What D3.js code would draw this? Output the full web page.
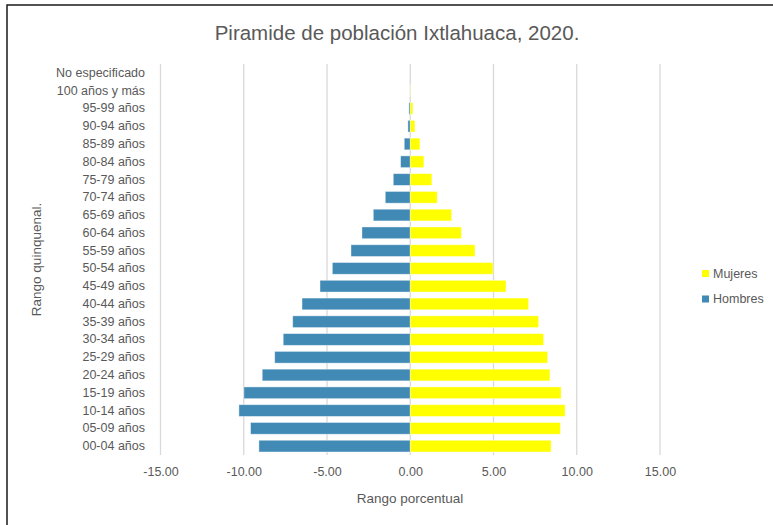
<!DOCTYPE html>
<html>
<head>
<meta charset="utf-8">
<script src="https://cdn.jsdelivr.net/npm/d3@7"></script>
<style>
  html, body { margin: 0; padding: 0; background: #fff; }
  svg { display: block; }
  text { font-family: "Liberation Sans", Arial, sans-serif; fill: #595959; }
</style>
</head>
<body>
<div id="chart"></div>
<script>
const categories = ["No especificado","100 años y más","95-99 años","90-94 años","85-89 años","80-84 años",
  "75-79 años","70-74 años","65-69 años","60-64 años","55-59 años","50-54 años","45-49 años",
  "40-44 años","35-39 años","30-34 años","25-29 años","20-24 años","15-19 años","10-14 años",
  "05-09 años","00-04 años"];
const hombres = [0, -0.01, -0.08, -0.14, -0.36, -0.58, -1.02, -1.50, -2.22, -2.90, -3.56, -4.68, -5.42,
  -6.50, -7.06, -7.63, -8.14, -8.89, -9.99, -10.29, -9.59, -9.09];
const mujeres = [0, 0.02, 0.16, 0.28, 0.58, 0.82, 1.30, 1.62, 2.49, 3.07, 3.89, 4.97, 5.75,
  7.11, 7.71, 8.01, 8.25, 8.39, 9.06, 9.30, 9.02, 8.46];
const xTicks = [-15, -10, -5, 0, 5, 10, 15];
const seriesNames = ["Mujeres", "Hombres"];
const seriesColors = ["#FFFF00", "#418AB5"];

const W = 773, H = 525;
const svg = d3.select("#chart").append("svg").attr("width", W).attr("height", H);

// chart border (top and left visible)
svg.append("rect").attr("x", 7).attr("y", 5).attr("width", 800).attr("height", 600)
  .attr("fill", "none").attr("stroke", "#1a1a1a").attr("stroke-width", 1.5);

const plot = { left: 160.5, right: 660, top: 64, bottom: 455 };

const x = d3.scaleLinear().domain([-15, 15]).range([plot.left, plot.right]);
const y = d3.scaleBand().domain(categories).range([plot.top, plot.bottom]).paddingInner(0.34).paddingOuter(0.17);

// gridlines
svg.append("g").selectAll("line").data(xTicks).join("line")
  .attr("x1", d => x(d)).attr("x2", d => x(d))
  .attr("y1", plot.top).attr("y2", plot.bottom)
  .attr("stroke", "#d9d9d9").attr("stroke-width", 1.3);

// bars
const data = categories.map((c, i) => ({ c, h: hombres[i], m: mujeres[i] }));
svg.append("g").selectAll("rect").data(data).join("rect")
  .attr("x", d => x(Math.min(0, d.h))).attr("width", d => Math.abs(x(d.h) - x(0)))
  .attr("y", d => y(d.c)).attr("height", y.bandwidth())
  .attr("fill", seriesColors[1]).attr("stroke", "#ffffff").attr("stroke-opacity", 0.5).attr("stroke-width", 0.8);
svg.append("g").selectAll("rect").data(data).join("rect")
  .attr("x", x(0)).attr("width", d => Math.abs(x(d.m) - x(0)))
  .attr("y", d => y(d.c)).attr("height", y.bandwidth())
  .attr("fill", seriesColors[0]).attr("stroke", "#ffffff").attr("stroke-opacity", 0.5).attr("stroke-width", 0.8);

// y axis labels
const yAxis = d3.axisLeft(y).tickSize(0).tickPadding(0);
const yg = svg.append("g").attr("transform", `translate(145,0)`).call(yAxis);
yg.select(".domain").remove();
yg.selectAll("text").attr("font-size", 12.5).style("font-family", '"Liberation Sans", Arial, sans-serif').attr("fill", "#595959");

// x axis labels (hyphen-minus as in reference)
const fmt = d3.format(".2f");
const xAxis = d3.axisBottom(x).tickValues(xTicks).tickSize(0).tickPadding(0)
  .tickFormat(d => fmt(d).replace("\u2212", "-"));
const xg = svg.append("g").attr("transform", `translate(0,${plot.bottom + 12})`).call(xAxis);
xg.select(".domain").remove();
xg.selectAll("text").attr("font-size", 12.5).style("font-family", '"Liberation Sans", Arial, sans-serif').attr("fill", "#595959");

// title
svg.append("text").attr("x", 397).attr("y", 40).attr("text-anchor", "middle")
  .attr("font-size", 20.5).text("Piramide de población Ixtlahuaca, 2020.");

// axis titles
svg.append("text").attr("x", 410).attr("y", 503).attr("text-anchor", "middle")
  .attr("font-size", 13.5).text("Rango porcentual");
svg.append("text").attr("transform", `translate(41,${(plot.top + plot.bottom) / 2}) rotate(-90)`)
  .attr("text-anchor", "middle").attr("font-size", 13.5).text("Rango quinquenal.");

// legend
const lg = svg.append("g");
seriesNames.forEach((n, i) => {
  const cy = 273.5 + i * 25.5;
  lg.append("rect").attr("x", 702).attr("y", cy - 3.5).attr("width", 7).attr("height", 7).attr("fill", seriesColors[i]);
  lg.append("text").attr("x", 713).attr("y", cy).attr("dy", "0.35em").attr("font-size", 12.5).text(n);
});
</script>
</body>
</html>
